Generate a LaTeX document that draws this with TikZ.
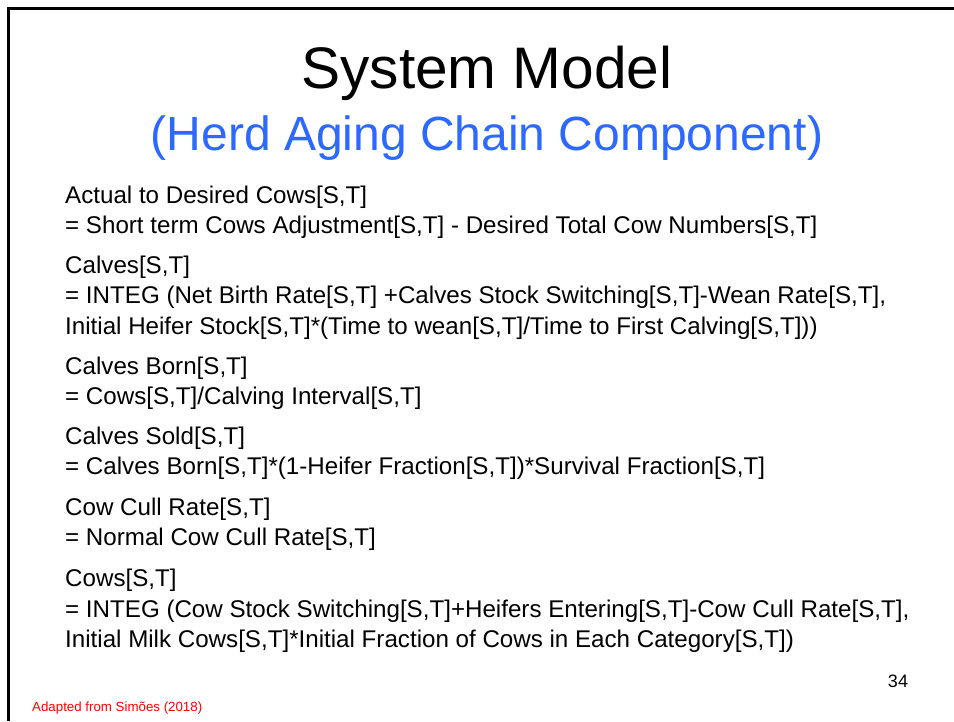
\documentclass[tikz,border=0pt]{standalone}
\usepackage{fontspec}
\setmainfont{Liberation Sans}
\definecolor{titleblue}{RGB}{45,104,255}
\definecolor{notered}{RGB}{255,0,0}
\begin{document}
\begin{tikzpicture}[x=1pt,y=-1pt,
  bodyline/.style={anchor=base west,inner sep=0pt,font=\fontsize{24.15}{28}\selectfont},
  heading/.style={anchor=base,inner sep=0pt}]
\useasboundingbox (0,0) rectangle (954,721);
\fill[white] (0,0) rectangle (954,721);
% slide frame (top and left edges)
\draw[line width=3pt] (8,721) -- (8,8) -- (954,8);
% titles
\node[heading,font=\fontsize{58.6}{64}\selectfont] (title) at (487,88) {System Model};
\node[heading,font=\fontsize{48}{54}\selectfont,text=titleblue] (subtitle) at (487,150) {(Herd Aging Chain Component)};
% equations
\node[bodyline] (l1) at (65,203.5) {Actual to Desired Cows[S,T]};
\node[bodyline] (l2) at (65,233.5) {= Short term Cows Adjustment[S,T] - Desired Total Cow Numbers[S,T]};
\node[bodyline] (l3) at (65,273.5) {Calves[S,T]};
\node[bodyline] (l4) at (65,303.5) {= INTEG (Net Birth Rate[S,T] +Calves Stock Switching[S,T]-Wean Rate[S,T],};
\node[bodyline] (l5) at (65,334.5) {Initial Heifer Stock[S,T]*(Time to wean[S,T]/Time to First Calving[S,T]))};
\node[bodyline] (l6) at (65,374.5) {Calves Born[S,T]};
\node[bodyline] (l7) at (65,404.5) {= Cows[S,T]/Calving Interval[S,T]};
\node[bodyline] (l8) at (65,444.5) {Calves Sold[S,T]};
\node[bodyline] (l9) at (65,474.5) {= Calves Born[S,T]*(1-Heifer Fraction[S,T])*Survival Fraction[S,T]};
\node[bodyline] (l10) at (65,515.5) {Cow Cull Rate[S,T]};
\node[bodyline] (l11) at (65,545.5) {= Normal Cow Cull Rate[S,T]};
\node[bodyline] (l12) at (65,586.5) {Cows[S,T]};
\node[bodyline] (l13) at (65,617.5) {= INTEG (Cow Stock Switching[S,T]+Heifers Entering[S,T]-Cow Cull Rate[S,T],};
\node[bodyline] (l14) at (65,647.5) {Initial Milk Cows[S,T]*Initial Fraction of Cows in Each Category[S,T])};
% page number and source note
\node[anchor=base,inner sep=0pt,font=\fontsize{18}{20}\selectfont] (page) at (898,687) {34};
\node[anchor=base west,inner sep=0pt,font=\fontsize{13.3}{15}\selectfont,text=notered] (source) at (32,711) {Adapted from Simões (2018)};
\end{tikzpicture}
\end{document}
